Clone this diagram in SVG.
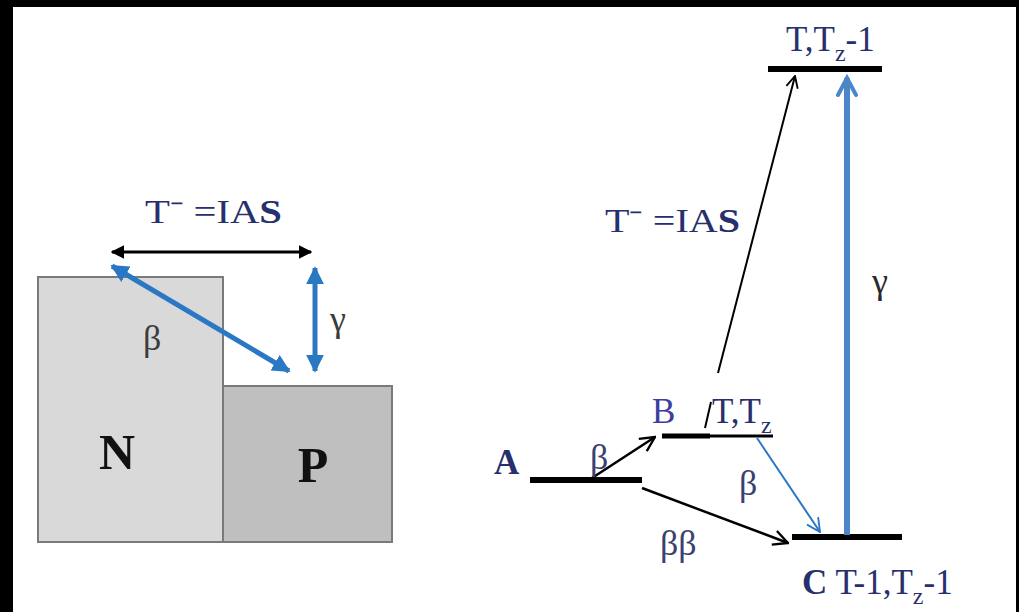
<svg xmlns="http://www.w3.org/2000/svg" width="1019" height="612" viewBox="0 0 1019 612">
<style>
.t{font-family:"Liberation Serif","Times New Roman",serif;}
.navy{fill:#27306c;}
.gray{fill:#3c3c3c;}
.lvl{stroke:#000;stroke-width:6;}
.box{stroke:#7a7a7a;stroke-width:2;}
</style>
<defs>
<marker id="fk" viewBox="0 0 10 10" refX="9" refY="5" markerWidth="4.5" markerHeight="4.5" orient="auto-start-reverse" markerUnits="strokeWidth"><path d="M0,0 L10,5 L0,10 Z" fill="#000"/></marker>
<marker id="fb" viewBox="0 0 10 10" refX="9" refY="5" markerWidth="3.6" markerHeight="3.6" orient="auto-start-reverse" markerUnits="strokeWidth"><path d="M0,0 L10,5 L0,10 Z" fill="#2a78c4"/></marker>
<marker id="ok" viewBox="0 0 12 12" refX="11" refY="6" markerWidth="7" markerHeight="7" orient="auto" markerUnits="strokeWidth"><path d="M1,1 L11,6 L1,11" fill="none" stroke="#000" stroke-width="1.6"/></marker>
<marker id="ob" viewBox="0 0 12 12" refX="11" refY="6" markerWidth="8" markerHeight="8" orient="auto" markerUnits="strokeWidth"><path d="M1,1 L11,6 L1,11" fill="none" stroke="#2a78c4" stroke-width="1.4"/></marker>
<marker id="obt" viewBox="0 0 12 12" refX="10" refY="6" markerWidth="4" markerHeight="4" orient="auto" markerUnits="strokeWidth"><path d="M1.5,1.5 L10,6 L1.5,10.5" fill="none" stroke="#4a86c8" stroke-width="2" stroke-linecap="round"/></marker>
</defs>
<rect x="0" y="0" width="1019" height="612" fill="#000"/>
<rect x="13" y="7" width="1003" height="605" fill="#fff"/>

<g id="N">
<rect class="box" x="38" y="277" width="185" height="265" fill="#d9d9d9"/>
<text class="t" x="117" y="469" font-size="50" font-weight="bold" text-anchor="middle" fill="#111">N</text>
</g>
<g id="P">
<rect class="box" x="223" y="386" width="169" height="156" fill="#bfbfbf"/>
<text class="t" x="313" y="482" font-size="50" font-weight="bold" text-anchor="middle" fill="#111">P</text>
</g>
<g id="left-labels">
<text class="t navy" x="145" y="223" font-size="33" textLength="137" lengthAdjust="spacingAndGlyphs">T⁻ =IA<tspan font-weight="bold">S</tspan></text>
<text class="t gray" x="143" y="350" font-size="36">β</text>
<text class="t gray" x="330" y="331" font-size="36">γ</text>
</g>

<g id="level-top"><line class="lvl" x1="768" y1="69" x2="882" y2="69"/>
<text class="t navy" x="786" y="51" font-size="35">T,T<tspan font-size="24" dy="10">z</tspan><tspan dy="-10">-1</tspan></text></g>
<g id="level-B"><line x1="662" y1="436" x2="710" y2="436" stroke="#000" stroke-width="5"/><line x1="708" y1="436" x2="773" y2="436" stroke="#000" stroke-width="3"/>
<text class="t" x="652" y="423" font-size="35" fill="#3d3d9e">B</text>
<text class="t navy" x="712" y="423" font-size="35">T,T<tspan font-size="24" dy="10">z</tspan></text></g>
<g id="level-A"><line class="lvl" x1="530" y1="480" x2="642" y2="480"/>
<text class="t navy" x="494" y="474" font-size="35" font-weight="bold">A</text></g>
<g id="level-C"><line class="lvl" x1="792" y1="537" x2="902" y2="537"/>
<text class="t navy" x="802" y="594" font-size="35"><tspan font-weight="bold">C</tspan> T-1,T<tspan font-size="24" dy="10">z</tspan><tspan dy="-10">-1</tspan></text></g>

<g id="connectors">
<line x1="112" y1="252" x2="311" y2="252" stroke="#000" stroke-width="3" marker-start="url(#fk)" marker-end="url(#fk)"/>
<line x1="112" y1="266" x2="289" y2="371" stroke="#2a78c4" stroke-width="5" marker-start="url(#fb)" marker-end="url(#fb)"/>
<line x1="315" y1="268" x2="315" y2="371" stroke="#2a78c4" stroke-width="5" marker-start="url(#fb)" marker-end="url(#fb)"/>
<line x1="705" y1="428" x2="711" y2="402" stroke="#000" stroke-width="2"/>
<line x1="718" y1="373" x2="795" y2="76" stroke="#000" stroke-width="2" marker-end="url(#ok)"/>
<line x1="592" y1="478" x2="655" y2="437" stroke="#000" stroke-width="2.5" marker-end="url(#ok)"/>
<line x1="642" y1="488" x2="788" y2="543" stroke="#000" stroke-width="2.5" marker-end="url(#ok)"/>
<line x1="757" y1="438" x2="820" y2="532" stroke="#2a78c4" stroke-width="2" marker-end="url(#ob)"/>
<line x1="847" y1="535" x2="847" y2="78" stroke="#4a86c8" stroke-width="6" marker-end="url(#obt)"/>
</g>
<g id="right-labels">
<text class="t navy" x="605" y="232" font-size="33" textLength="135" lengthAdjust="spacingAndGlyphs">T⁻ =IA<tspan font-weight="bold">S</tspan></text>
<text class="t" x="590" y="469" font-size="36" fill="#3a4070">β</text>
<text class="t" x="739" y="495" font-size="36" fill="#3a4070">β</text>
<text class="t" x="660" y="555" font-size="36" fill="#3a4070">ββ</text>
<text class="t" x="872" y="293" font-size="36" fill="#2a2a2a">γ</text>
</g>
</svg>
